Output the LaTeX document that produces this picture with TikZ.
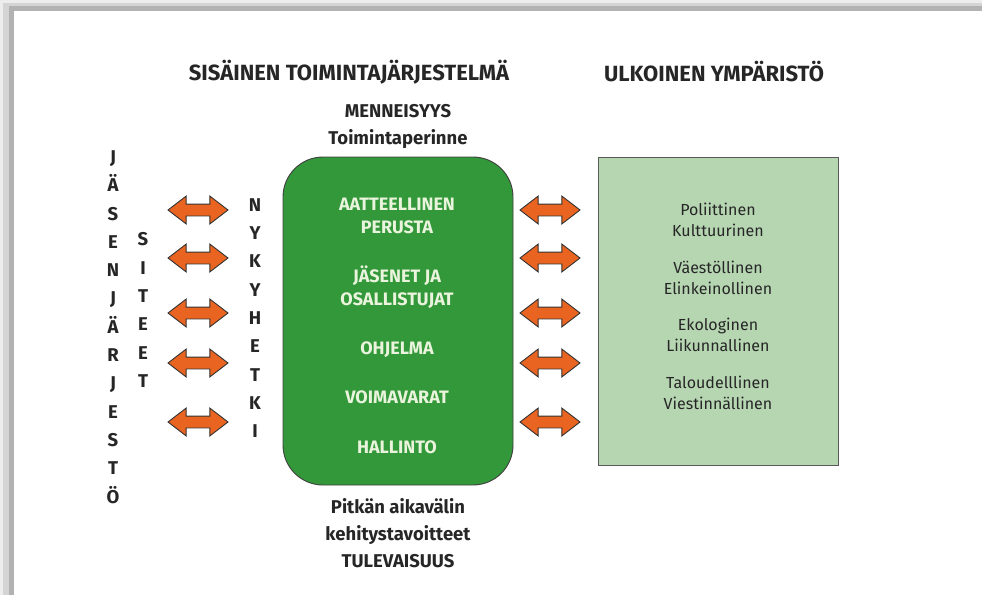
\documentclass[tikz,border=0pt]{standalone}
\usepackage{fontspec}
\setmainfont{Fira Sans}
\usetikzlibrary{positioning, shapes.arrows}

\definecolor{coregreen}{RGB}{50,152,58}
\definecolor{envgreen}{RGB}{182,214,178}
\definecolor{linkorange}{RGB}{232,100,32}
\definecolor{paletext}{RGB}{234,244,220}
\definecolor{inktext}{RGB}{38,38,38}

\tikzset{
  heading/.style={font=\bfseries\fontsize{22}{26}\selectfont, text=inktext},
  timetext/.style={font=\bfseries\fontsize{18.5}{27}\selectfont, align=center, text=inktext, inner sep=0pt},
  coretext/.style={font=\bfseries\fontsize{18}{23}\selectfont, align=center, text=paletext},
  envtext/.style={font=\fontsize{16}{21}\selectfont, align=center, text=inktext},
  column/.style={font=\bfseries\fontsize{18.5}{28.3}\selectfont, align=center, text=inktext},
  link/.style={double arrow, draw=black!80, fill=linkorange, line width=0.9pt,
    minimum height=60pt, minimum width=27pt, double arrow head extend=8pt,
    double arrow tip angle=75, inner xsep=0pt, inner ysep=5.5pt}
}

\begin{document}
\begin{tikzpicture}[x=1pt, y=-1pt]
    \useasboundingbox (0,0) rectangle (982,595);
    % shadow of the page
    \fill[black!7] (0,0) rectangle (982,12);
    \fill[black!7] (0,0) rectangle (14,595);
    \fill[black!17] (3,3) rectangle (982,12);
    \fill[black!17] (3,3) rectangle (14,595);
    \fill[black!30] (9,6) rectangle (982,11);
    \fill[black!30] (9,6) rectangle (14,595);
    \fill[white] (14,11) rectangle (982,595);

    \node[heading] (inner) at (349,72) {SISÄINEN TOIMINTAJÄRJESTELMÄ};
    \node[heading] (outer) at (714,72) {ULKOINEN YMPÄRISTÖ};

    \node[draw=black!75, line width=0.9pt, fill=coregreen, rounded corners=40pt,
          minimum width=230pt, minimum height=328pt] (core) at (398,321) {};
    \node[draw=black!65, line width=0.9pt, fill=envgreen,
          minimum width=240pt, minimum height=308pt] (env) at (718,311) {};

    \node[timetext, above=8pt of core] (past) {MENNEISYYS\\Toimintaperinne};
    \node[timetext, below=13pt of core] (future) {Pitkän aikavälin\\kehitystavoitteet\\TULEVAISUUS};

    \node[coretext] (idea) at (397,216) {AATTEELLINEN\\PERUSTA};
    \node[coretext] (members) at (397,287) {JÄSENET JA\\OSALLISTUJAT};
    \node[coretext] (program) at (397,350) {OHJELMA};
    \node[coretext] (resources) at (397,397) {VOIMAVARAT};
    \node[coretext] (admin) at (397,447) {HALLINTO};

    \node[envtext] (pol) at (718,220) {Poliittinen\\Kulttuurinen};
    \node[envtext] (pop) at (718,278) {Väestöllinen\\Elinkeinollinen};
    \node[envtext] (eco) at (718,335) {Ekologinen\\Liikunnallinen};
    \node[envtext] (econ) at (718,393) {Taloudelllinen\\Viestinnällinen};

    \node[column] (org) at (113,327) {J\\Ä\\S\\E\\N\\J\\Ä\\R\\J\\E\\S\\T\\Ö};
    \node[column] (ties) at (143,310) {S\\I\\T\\E\\E\\T};
    \node[column] (now) at (255,318) {N\\Y\\K\\Y\\H\\E\\T\\K\\I};

    \foreach \y [count=\i] in {210,258,313,363,422} {
        \node[link] (la\i) at (198,\y) {};
        \node[link] (ra\i) at (550,\y) {};
    }
\end{tikzpicture}
\end{document}
